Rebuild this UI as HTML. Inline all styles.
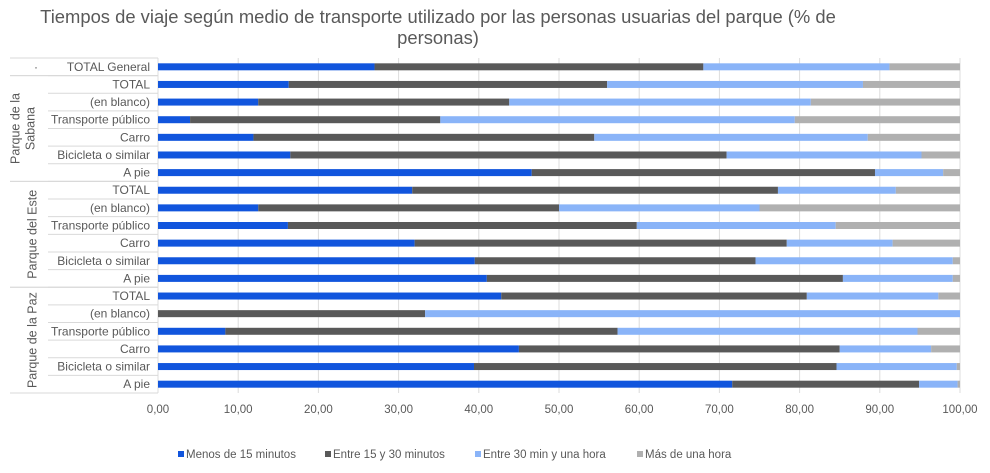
<!DOCTYPE html>
<html><head><meta charset="utf-8"><style>
body{margin:0;background:#fff;font-family:"Liberation Sans",sans-serif}
svg text{font-family:"Liberation Sans",sans-serif}
</style></head><body>
<svg id="c" width="990" height="468" viewBox="0 0 990 468">
<text x="438" y="23" font-size="18.4" fill="#595959" text-anchor="middle">Tiempos de viaje según medio de transporte utilizado por las personas usuarias del parque (% de</text>
<text x="438" y="44" font-size="18.4" fill="#595959" text-anchor="middle">personas)</text>
</svg>
<script>
const categories=["TOTAL General","TOTAL","(en blanco)","Transporte público","Carro","Bicicleta o similar","A pie","TOTAL","(en blanco)","Transporte público","Carro","Bicicleta o similar","A pie","TOTAL","(en blanco)","Transporte público","Carro","Bicicleta o similar","A pie"];
const groups=[{name:["·"],start:0,end:1},{name:["Parque de la","Sabana"],start:1,end:7},{name:["Parque del Este"],start:7,end:13},{name:["Parque de la Paz"],start:13,end:19}];
const cumA=[27,16.3,12.5,4,11.9,16.5,46.6,31.7,12.5,16.2,32,39.5,41,42.8,0,8.4,45,39.4,71.6];
const cumB=[68,56,43.8,35.2,54.4,70.9,89.4,77.3,50,59.7,78.4,74.5,85.4,80.9,33.3,57.3,85,84.6,94.9];
const cumC=[91.2,87.9,81.4,79.4,88.5,95.2,97.9,92,75,84.5,91.6,99.1,99.1,97.3,100,94.7,96.4,99.6,99.7];
const menos15=cumA.map(v=>v);
const entre15y30=cumB.map((v,i)=>v-cumA[i]);
const entre30y60=cumC.map((v,i)=>v-cumB[i]);
const masHora=cumC.map(v=>100-v);
const seriesNames=["Menos de 15 minutos","Entre 15 y 30 minutos","Entre 30 min y una hora","Más de una hora"];
const colors=["#1155dd","#595959","#8ab4f8","#b0b0b0"];
const xTicks=[0,10,20,30,40,50,60,70,80,90,100];
const svg=document.getElementById('c');const NS="http://www.w3.org/2000/svg";
const X0=158,X1=960,Y0=58,Y1=393;
const x=v=>X0+(X1-X0)*v/100;
const rowH=(Y1-Y0)/categories.length;
const y=i=>Y0+rowH*i;
function mk(t,a){const e=document.createElementNS(NS,t);for(const k in a)e.setAttribute(k,a[k]);svg.appendChild(e);return e;}
xTicks.forEach((t,i)=>{
 const l=mk('line',{x1:x(t),x2:x(t),y1:Y0,y2:Y1,stroke:'#dcdcdc','stroke-width':1});
 
 
 const tx=mk('text',{x:x(t),y:413,'font-size':11.5,fill:'#595959','text-anchor':'middle'});
 tx.textContent=t.toFixed(2).replace('.',',');
 
 
});
const all=[menos15,entre15y30,entre30y60,masHora];
categories.forEach((c,i)=>{
 let acc=0;const cy=y(i)+rowH/2;
 all.forEach((s,k)=>{
  const r=mk('rect',{x:x(acc),y:cy-3.5,width:Math.max(0,x(acc+s[i])-x(acc)),height:7,fill:colors[k]});
  
  
  acc+=s[i];
 });
 const t=mk('text',{x:150,y:cy+4,'font-size':12,fill:'#595959','text-anchor':'end'});
 t.textContent=c;
 
 
 if(i>0){const l=mk('line',{x1:48,x2:X0,y1:y(i),y2:y(i),stroke:'#d9d9d9'});
 
 }
});
groups.forEach(g=>{
 [g.start,g.end].forEach(b=>{const l=mk('line',{x1:10,x2:X0,y1:y(b),y2:y(b),stroke:'#d9d9d9'});
 
 });
 const cy=(y(g.start)+y(g.end))/2;
 if(g.name[0]==="·"){const t=mk('text',{x:36,y:cy+4,'font-size':12,fill:'#595959','text-anchor':'middle'});t.textContent="·";
 
 return;}
 const n=g.name.length;
 g.name.forEach((s,j)=>{const cx=(n===1?33:16+15*j);
  const t=mk('text',{x:cx,y:cy,'font-size':12.5,fill:'#595959','text-anchor':'middle',transform:`rotate(-90 ${cx} ${cy})`,'dominant-baseline':'middle'});
  t.textContent=s;
  
  });
});
const lx=[186,333,483,645];
seriesNames.forEach((s,k)=>{
 const r=mk('rect',{x:lx[k]-8,y:451,width:6,height:6,fill:colors[k]});
 
 
 const t=mk('text',{x:lx[k],y:458,'font-size':11.5,fill:'#595959'});
 t.textContent=s;
 
 
});
</script>
</body></html>
